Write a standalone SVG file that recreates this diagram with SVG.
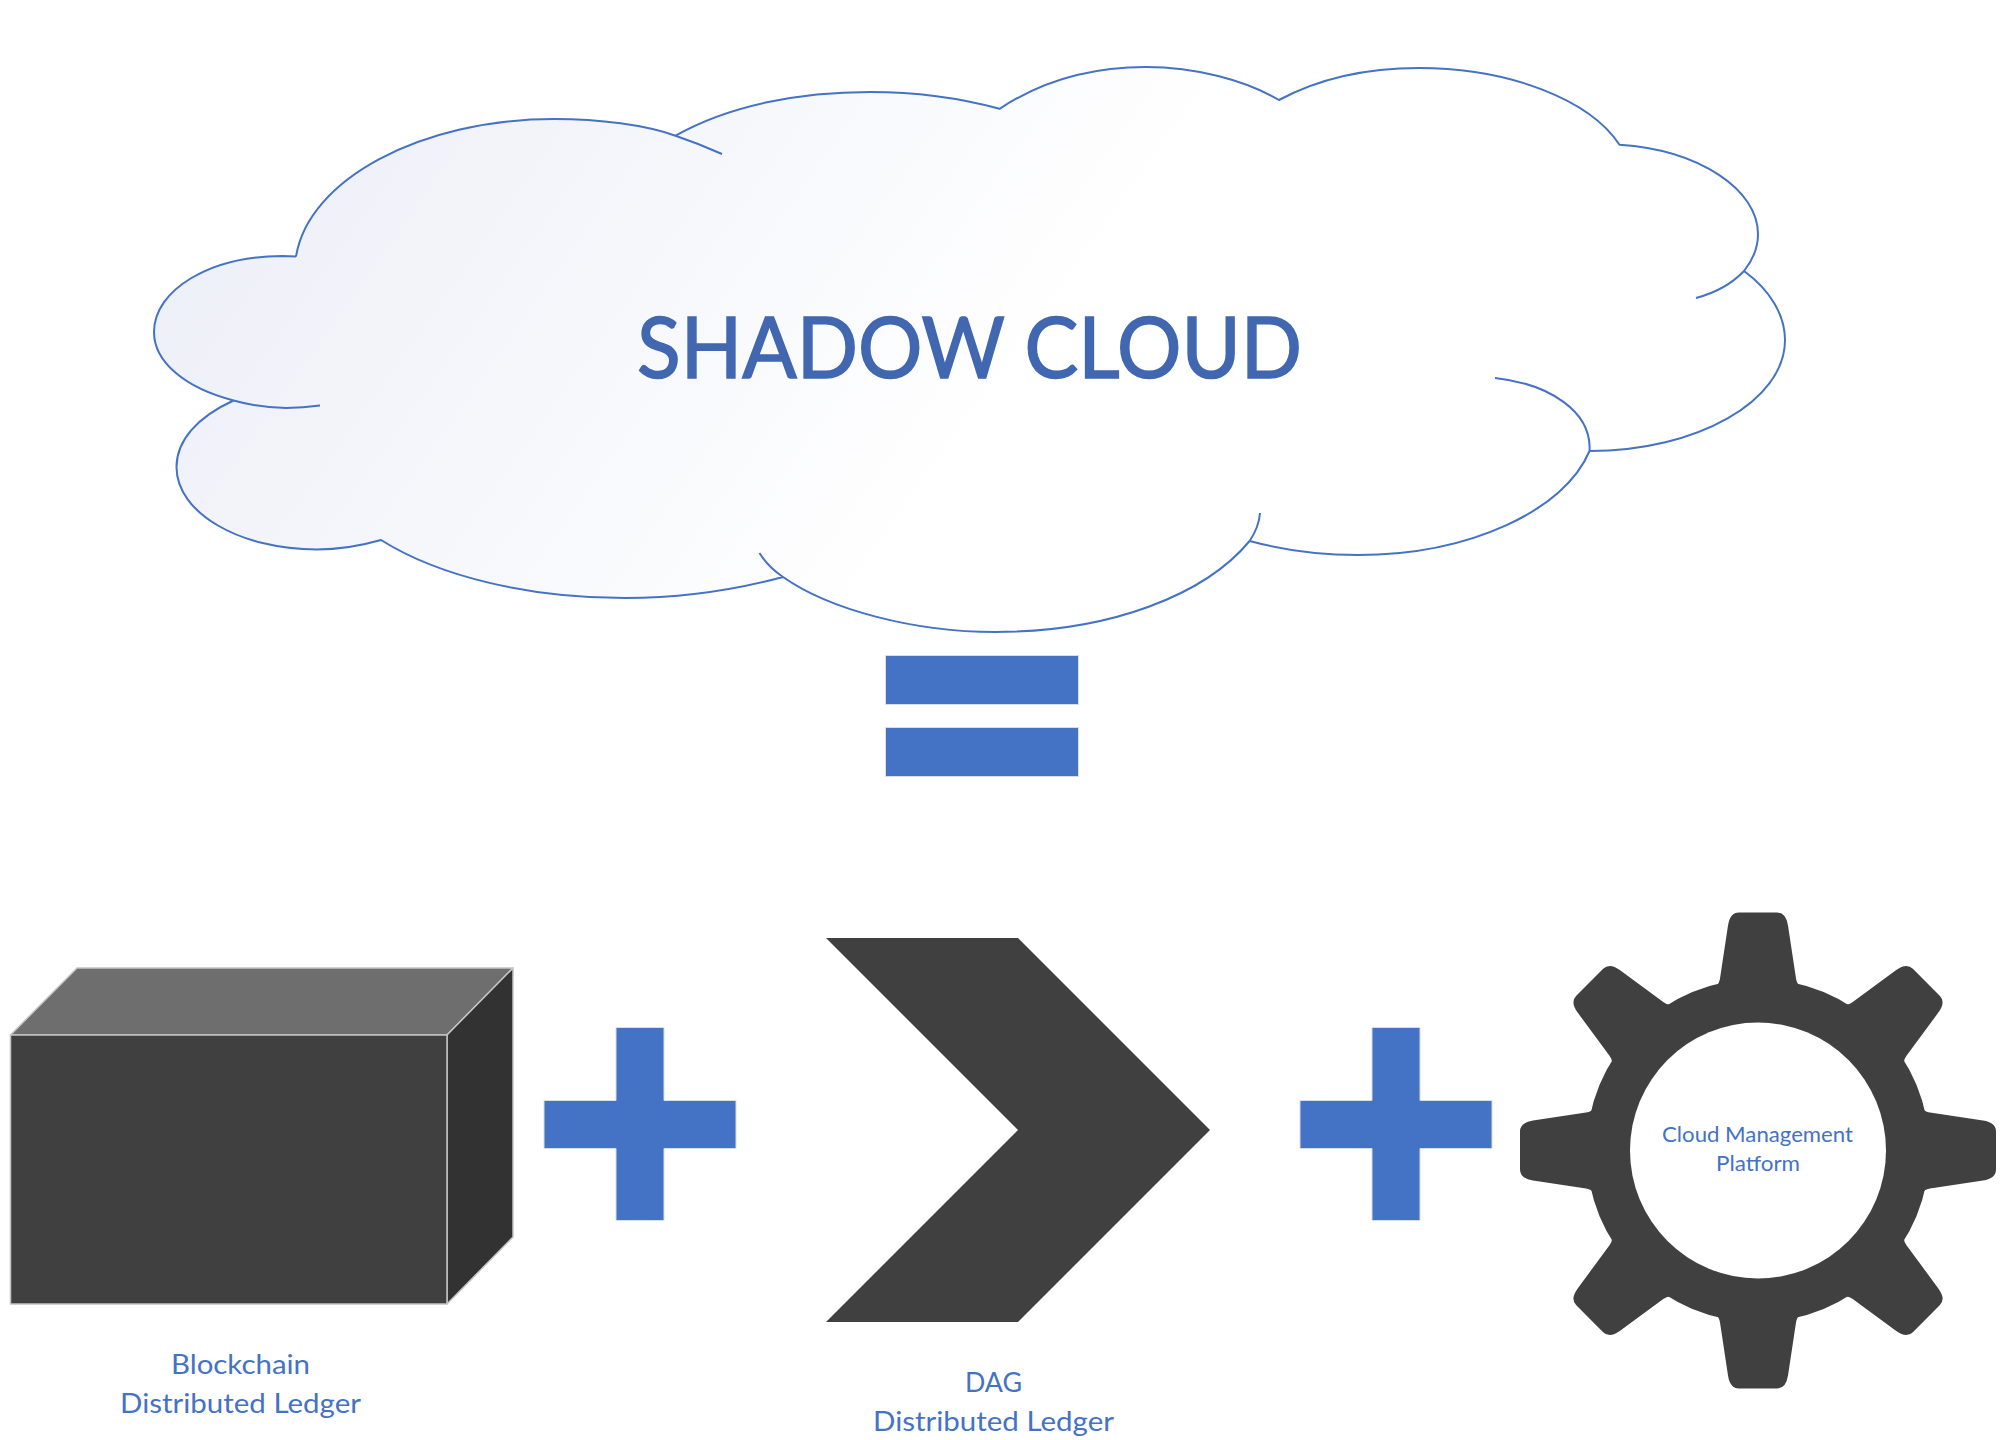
<svg xmlns="http://www.w3.org/2000/svg" width="2006" height="1440" viewBox="0 0 2006 1440">
<style>
.op{fill:#4472C4;stroke:#d8dde8;stroke-width:1}
.lb{font-family:Lato,"Open Sans",sans-serif;fill:#4472C4;text-anchor:start}
.big{font-size:27px}
.sm{font-size:21px}
.cube{stroke:#c4c4c4;stroke-width:1.5;stroke-linejoin:round}
.dark{fill:#404040}
</style>
<defs>
<linearGradient id="cg" gradientUnits="userSpaceOnUse" x1="280" y1="130" x2="900" y2="570">
<stop offset="0" stop-color="#EEF0F8"/><stop offset="1" stop-color="#FFFFFF"/>
</linearGradient>
<path id="tooth" d="M-42,-165 Q-39,-166 -38,-172 L-30,-225 Q-28,-238 -19,-238 L19,-238 Q28,-238 30,-225 L38,-172 Q39,-166 42,-165 L0,-130 Z"/>
<path id="plus" d="M72,0 H120 V73 H192 V121 H120 V193 H72 V121 H0 V73 H72 Z"/>
</defs>
<rect width="2006" height="1440" fill="#fff"/>
<g id="cloud">
<path fill="url(#cg)" d="M296,256.6 C308,180 420,119 554,119 C600,119 645,125 675.5,135.7 C730,105 800,92 870,92 C915,92 960,98 999.6,108.8 C1040,82 1090,67 1146,67 C1195,67 1245,80 1279,100 C1320,78 1370,68 1419,68 C1510,68 1590,100 1619.5,144.7 C1700,150 1758,190 1758,234 C1758,248 1752,261 1744,271 C1770,290 1785,315 1785,340 C1785,401 1697,451 1589.5,451 C1565,510 1470,555 1358,555 C1320,555 1283,550 1249.6,541 C1205,595 1110,632 995,632 C915,632 830,610 783,577 C735,590 680,598 625,598 C530,598 440,577 381,540 C360,546 340,549.5 317,549.5 C240,549.5 176.5,513 176.5,467 C176.5,441 197,417 233.6,400.5 C185,388 154,362 154,332 C154,290 210,256 282,256 Z"/>
<path fill="none" stroke="#4472C4" stroke-width="2" d="M296,256.6 C308,180 420,119 554,119 C600,119 645,125 675.5,135.7 Q700,144 722,154 M675.5,135.7 C730,105 800,92 870,92 C915,92 960,98 999.6,108.8 C1040,82 1090,67 1146,67 C1195,67 1245,80 1279,100 C1320,78 1370,68 1419,68 C1510,68 1590,100 1619.5,144.7 C1700,150 1758,190 1758,234 C1758,248 1752,261 1744,271 Q1726,290 1696,298 M1744,271 C1770,290 1785,315 1785,340 C1785,401 1697,451 1589.5,451 C1592,412 1550,384 1495,378 M1589.5,451 C1565,510 1470,555 1358,555 C1320,555 1283,550 1249.6,541 Q1259,527 1260,513 M1249.6,541 C1205,595 1110,632 995,632 C915,632 830,610 783,577 Q768,567 759.5,553 M783,577 C735,590 680,598 625,598 C530,598 440,577 381,540 C360,546 340,549.5 317,549.5 C240,549.5 176.5,513 176.5,467 C176.5,441 197,417 233.6,400.5 C250,405 268,408 286,408 Q303,408 320,405.6 M233.6,400.5 C185,388 154,362 154,332 C154,290 210,256 282,256 L296,256.6"/>
<text x="637" y="378" font-family="Lato,'Open Sans',sans-serif" font-size="85" fill="#4067B0" stroke="#4067B0" stroke-width="1.6" textLength="665" lengthAdjust="spacingAndGlyphs">SHADOW CLOUD</text>
</g>
<g id="equals">
<rect class="op" x="885.5" y="655.5" width="193" height="49"/>
<rect class="op" x="885.5" y="727.5" width="193" height="49"/>
</g>
<g id="blockchain">
<path class="cube" fill="#6E6E6E" d="M10.5,1035 L77,968 H513 L447,1035 Z"/>
<path class="cube" fill="#323232" d="M447,1035 L513,968 V1237 L447,1304 Z"/>
<rect class="cube dark" x="10.5" y="1035" width="436.5" height="269"/>
<text class="lb big" x="171" y="1374" textLength="139" lengthAdjust="spacingAndGlyphs">Blockchain</text>
<text class="lb big" x="120" y="1413" textLength="241" lengthAdjust="spacingAndGlyphs">Distributed Ledger</text>
</g>
<use id="plus1" href="#plus" class="op" x="544" y="1027.5"/>
<g id="dag">
<path class="dark" d="M826,938 H1018 L1210,1130 L1018,1322 H826 L1018,1130 Z"/>
<text class="lb big" x="965" y="1392" textLength="57" lengthAdjust="spacingAndGlyphs">DAG</text>
<text class="lb big" x="873" y="1431" textLength="241" lengthAdjust="spacingAndGlyphs">Distributed Ledger</text>
</g>
<use id="plus2" href="#plus" class="op" x="1300" y="1027.5"/>
<g id="gear">
<g class="dark" transform="translate(1758 1150.5)">
<circle r="171.5"/>
<use href="#tooth"/>
<use href="#tooth" transform="rotate(45)"/>
<use href="#tooth" transform="rotate(90)"/>
<use href="#tooth" transform="rotate(135)"/>
<use href="#tooth" transform="rotate(180)"/>
<use href="#tooth" transform="rotate(225)"/>
<use href="#tooth" transform="rotate(270)"/>
<use href="#tooth" transform="rotate(315)"/>
<circle r="128" fill="#fff"/>
</g>
<text class="lb sm" x="1662" y="1142" textLength="191" lengthAdjust="spacingAndGlyphs">Cloud Management</text>
<text class="lb sm" x="1716" y="1171" textLength="84" lengthAdjust="spacingAndGlyphs">Platform</text>
</g>
</svg>
